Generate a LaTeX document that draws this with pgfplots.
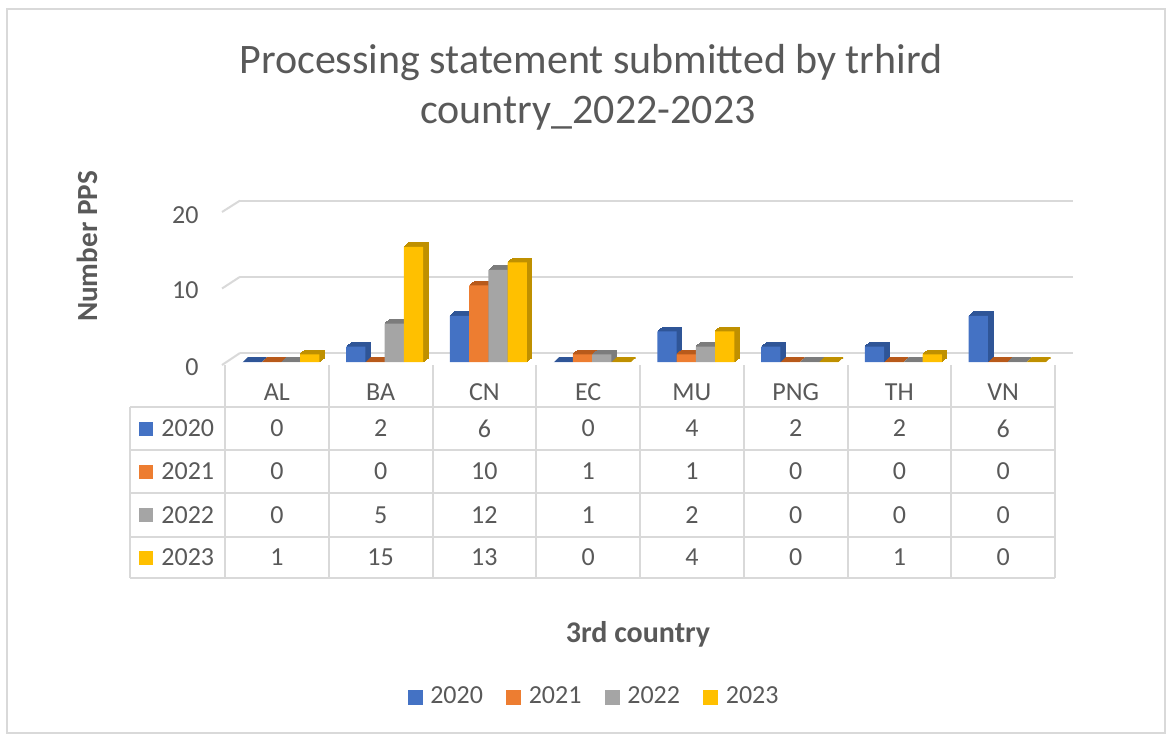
\documentclass[border=0pt]{standalone}
\usepackage{pgfplots}
\pgfplotsset{compat=1.18}
\usepackage{pgfplotstable}
\usepackage{fontspec}
\setmainfont{Carlito}
\definecolor{cA}{HTML}{4472C4}
\definecolor{cB}{HTML}{ED7D31}
\definecolor{cC}{HTML}{A5A5A5}
\definecolor{cD}{HTML}{FFC000}
\definecolor{dA}{HTML}{2F5597}
\definecolor{dB}{HTML}{B85A1B}
\definecolor{dC}{HTML}{7C7C7C}
\definecolor{dD}{HTML}{BF9000}
\definecolor{txt}{HTML}{595959}
\definecolor{grd}{HTML}{D9D9D9}
\newcommand\fs{\fontsize{13}{15.6}\selectfont}
\newcommand\fb{\fontsize{15}{18}\selectfont\bfseries}

\pgfplotstableread{
x name a b c d
0 AL 0 0 0 1
1 BA 2 0 5 15
2 CN 6 10 12 13
3 EC 0 1 1 0
4 MU 4 1 2 4
5 PNG 2 0 0 0
6 TH 2 0 0 1
7 VN 6 0 0 0
}\data

\tikzset{
  ex/.style={
    preaction={fill=#1,draw=#1,line width=0.6pt,transform canvas={shift={(0.5pt,0.4pt)}}},
    preaction={fill=#1,draw=#1,line width=0.6pt,transform canvas={shift={(1pt,0.8pt)}}},
    preaction={fill=#1,draw=#1,line width=0.6pt,transform canvas={shift={(1.5pt,1.2pt)}}},
    preaction={fill=#1,draw=#1,line width=0.6pt,transform canvas={shift={(2pt,1.6pt)}}},
    preaction={fill=#1,draw=#1,line width=0.6pt,transform canvas={shift={(2.5pt,2pt)}}}
  }
}

\begin{document}
\begin{tikzpicture}[x=0.5pt,y=0.5pt]
\path[use as bounding box] (0,0) rectangle (1170,736);
\draw[grd, line width=1pt] (7,3) rectangle (1165,727);

% title
\node[txt, anchor=base, inner sep=0pt, font=\fontsize{21}{25}\selectfont] at (591,663) {Processing statement submitted by trhird};
\node[txt, anchor=base, inner sep=0pt, font=\fontsize{21}{25}\selectfont] at (588,613) {country\_2022-2023};

% back wall grid
\begin{axis}[at={(120pt,191.5pt)}, anchor=south west, scale only axis,
  width=416.5pt, height=76.2pt, xmin=0, xmax=1, ymin=0, ymax=20,
  xtick=\empty, ytick={0,10,20}, yticklabels={}, ymajorgrids,
  grid style={grd, line width=1pt}, axis line style={draw=none},
  major tick length=0pt]
\addplot[draw=none] coordinates {(0.5,5)};
\end{axis}
\draw[grd, line width=1pt] (222,371)--(240,383) (222,447.5)--(240,459.2) (222,524)--(240,535.4);

% y tick labels and title
\node[txt, anchor=east, inner sep=0pt, font=\fs] at (199,521) {20};
\node[txt, anchor=east, inner sep=0pt, font=\fs] at (199,446) {10};
\node[txt, anchor=east, inner sep=0pt, font=\fs] at (199,369) {0};
\node[txt, rotate=90, anchor=base, inner sep=0pt, font=\fontsize{14.6}{17.5}\selectfont\bfseries] at (97,489.5) {Number PPS};

% bars
\begin{axis}[at={(114.5pt,187pt)}, anchor=south west, scale only axis,
  width=415pt, height=76.7pt, xmin=-0.5, xmax=7.5, ymin=0, ymax=20,
  hide axis, clip=false,
  legend style={at={(0.441,-2.184)}, anchor=center, draw=none, fill=none,
    legend columns=4, font=\fs, text=txt,
    nodes={inner xsep=2pt, inner ysep=1pt},
    /tikz/every odd column/.append style={column sep=2pt},
    /tikz/every even column/.append style={column sep=9.5pt}},
  legend cell align=left]
\addplot[ybar, bar width=9.6pt, bar shift=-14.4pt, fill=cA, draw=none, ex=dA, forget plot] table[x=x,y=a]{\data};
\addplot[ybar, bar width=9.6pt, bar shift=-4.8pt, fill=cB, draw=none, ex=dB, forget plot] table[x=x,y=b]{\data};
\addplot[ybar, bar width=9.6pt, bar shift=4.8pt, fill=cC, draw=none, ex=dC, forget plot] table[x=x,y=c]{\data};
\addplot[ybar, bar width=9.6pt, bar shift=14.4pt, fill=cD, draw=none, ex=dD, forget plot] table[x=x,y=d]{\data};
\addlegendimage{legend image code/.code={\fill[cA] (0pt,-3.5pt) rectangle (7pt,3.5pt);}}
\addlegendentry{2020}
\addlegendimage{legend image code/.code={\fill[cB] (0pt,-3.5pt) rectangle (7pt,3.5pt);}}
\addlegendentry{2021}
\addlegendimage{legend image code/.code={\fill[cC] (0pt,-3.5pt) rectangle (7pt,3.5pt);}}
\addlegendentry{2022}
\addlegendimage{legend image code/.code={\fill[cD] (0pt,-3.5pt) rectangle (7pt,3.5pt);}}
\addlegendentry{2023}
\end{axis}

% data table
\begin{axis}[at={(112.5pt,79pt)}, anchor=south west, scale only axis,
  width=415pt, height=106.5pt, xmin=-0.5, xmax=7.5, ymin=365, ymax=578,
  y dir=reverse, hide axis, clip=false,
  nodes near coords, nodes near coords align={center},
  every node near coord/.append style={font=\fs, text=txt, inner sep=0pt},
  /pgf/number format/assume math mode=true]
\addplot[draw=none, point meta=explicit symbolic] table[x=x, y expr=392, meta=name]{\data};
\addplot[draw=none, point meta=explicit] table[x=x, y expr=428.5, meta=a]{\data};
\addplot[draw=none, point meta=explicit] table[x=x, y expr=471.5, meta=b]{\data};
\addplot[draw=none, point meta=explicit] table[x=x, y expr=515, meta=c]{\data};
\addplot[draw=none, point meta=explicit] table[x=x, y expr=557.5, meta=d]{\data};
\end{axis}

% table rules
\draw[grd, line width=1pt]
  (130,329)--(1055,329) (130,286)--(1055,286) (130,243)--(1055,243)
  (130,199)--(1055,199) (130,158)--(1055,158) (130,329)--(130,158);
\foreach \k in {0,...,8} {\draw[grd, line width=1pt] ({225+103.75*\k},371)--({225+103.75*\k},158);}

% series keys in the table
\fill[cA] (139,300.5) rectangle (153,314.5);
\fill[cB] (139,257.5) rectangle (153,271.5);
\fill[cC] (139,214) rectangle (153,228);
\fill[cD] (139,171.5) rectangle (153,185.5);
\node[txt, anchor=west, inner sep=0pt, font=\fs] at (161,307.5) {2020};
\node[txt, anchor=west, inner sep=0pt, font=\fs] at (161,264.5) {2021};
\node[txt, anchor=west, inner sep=0pt, font=\fs] at (161,221) {2022};
\node[txt, anchor=west, inner sep=0pt, font=\fs] at (161,178.5) {2023};

% x axis title
\node[txt, anchor=base, inner sep=0pt, font=\fb] at (638,94) {3rd country};
\end{tikzpicture}
\end{document}
